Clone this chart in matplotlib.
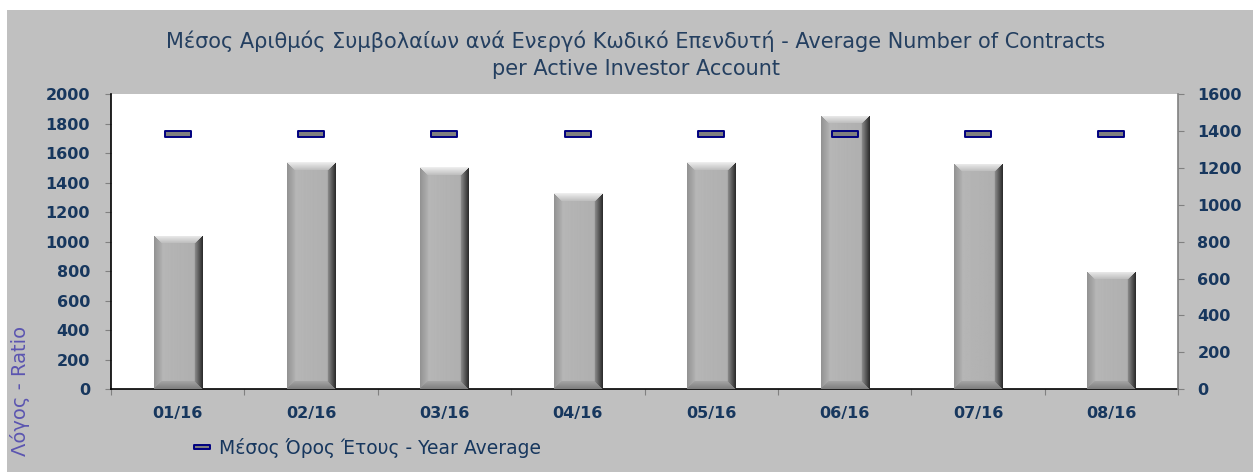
import numpy as np
import matplotlib.pyplot as plt
from matplotlib.patches import Rectangle
from matplotlib.path import Path
from matplotlib.lines import Line2D

# Datos
meses = ['01/16', '02/16', '03/16', '04/16', '05/16', '06/16', '07/16', '08/16']
contratos = [1040, 1537, 1503, 1327, 1537, 1853, 1526, 796]
media_anual = [1385, 1385, 1385, 1385, 1385, 1385, 1385, 1385]

titulo = ('Μέσος Αριθμός Συμβολαίων ανά Ενεργό Κωδικό Επενδυτή - Average Number of Contracts\n'
          'per Active Investor Account')
etiqueta_y = 'Λόγος - Ratio'
etiqueta_leyenda = 'Μέσος Όρος Έτους - Year Average'

azul = '#17375E'
gris_fondo = '#C0C0C0'

plt.rcParams['font.family'] = ['DejaVu Sans']

W, H = 1253, 472
fig = plt.figure(figsize=(W / 100, H / 100), dpi=100, facecolor='white')
# Fondo gris con margen blanco arriba y a la izquierda
fig.patches.append(Rectangle((7 / W, 0), 1 - 7 / W, 1 - 10 / H, transform=fig.transFigure,
                             facecolor=gris_fondo, edgecolor='none', zorder=-10))

ax = fig.add_axes([111 / W, 1 - 389.3 / H, (1178 - 111) / W, (389.3 - 94) / H])
ax.set_facecolor('white')
ax2 = ax.twinx()

x = np.arange(len(meses))
ax.set_xlim(-0.5, len(meses) - 0.5)
ax.set_ylim(0, 2000)
ax2.set_ylim(0, 1600)

barras = ax.bar(x, contratos, width=0.36, color='#B0B0B0', edgecolor='none', zorder=2)


# Textura biselada para las barras (efecto de Excel)
def textura_bisel(nx, ny, b=8):
    img = np.zeros((ny, nx))
    for j in range(ny):
        for i in range(nx):
            dl, dr, dt, db = i, nx - 1 - i, j, ny - 1 - j
            m = min(dl, dr, dt, db)
            t = i / max(nx - 1, 1)
            if m >= b:
                v = 0.72 - 0.04 * t
            elif m == dt:
                v = 0.93 - 0.025 * dt
            elif m == dr:
                v = 0.18 + 0.05 * dr
            elif m == db:
                v = 0.50 + 0.02 * db
            else:
                v = 0.58 + 0.015 * dl
            img[j, i] = v
    return img


fig.canvas.draw()
for b in barras:
    x0, h, w = b.get_x(), b.get_height(), b.get_width()
    p0 = ax.transData.transform((x0, 0))
    p1 = ax.transData.transform((x0 + w, h))
    nx = max(int(round(p1[0] - p0[0])), 4)
    ny = max(int(round(p1[1] - p0[1])), 4)
    im = ax.imshow(textura_bisel(nx, ny), cmap='gray', vmin=0, vmax=1,
                   extent=(x0, x0 + w, 0, h), aspect='auto', zorder=3,
                   interpolation='bilinear')
    im.set_clip_path(b)
ax.set_xlim(-0.5, len(meses) - 0.5)
ax.set_ylim(0, 2000)

# Marcador en forma de guion
guion = Path([(-1, -0.24), (1, -0.24), (1, 0.24), (-1, 0.24), (-1, -0.24)],
             [Path.MOVETO, Path.LINETO, Path.LINETO, Path.LINETO, Path.CLOSEPOLY])
ax2.plot(x, media_anual, linestyle='none', marker=guion, markersize=19,
         markerfacecolor='#7F7F7F', markeredgecolor='#000080', markeredgewidth=1.4, zorder=5)

# Ejes
for a in (ax, ax2):
    a.spines['top'].set_visible(False)
ax.spines['left'].set_color('black')
ax.spines['left'].set_linewidth(1.2)
ax.spines['bottom'].set_color('black')
ax.spines['bottom'].set_linewidth(1.2)
ax.spines['right'].set_visible(False)
ax2.spines['left'].set_visible(False)
ax2.spines['bottom'].set_visible(False)
ax2.spines['right'].set_color('#808080')
ax2.spines['right'].set_linewidth(1.2)

ax.set_yticks(np.arange(0, 2001, 200))
ax2.set_yticks(np.arange(0, 1601, 200))
ax.tick_params(axis='y', direction='out', length=4, width=0.8, color='#808080', pad=11,
               labelsize=11.5, labelcolor=azul)
ax2.tick_params(axis='y', direction='out', length=4, width=0.8, color='#808080', pad=10,
                labelsize=11.5, labelcolor=azul)
ax.set_xticks(x)
ax.set_xticklabels(meses)
ax.set_xticks(np.arange(-0.5, len(meses), 1), minor=True)
ax.tick_params(axis='x', which='major', length=0, pad=12, labelsize=11.5, labelcolor=azul)
ax.tick_params(axis='x', which='minor', direction='out', length=4, width=0.8, color='#808080')
for lab in ax.get_yticklabels() + ax2.get_yticklabels() + ax.get_xticklabels():
    lab.set_fontweight('bold')

# Título
fig.text(636 / W, 1 - 30 / H, titulo, ha='center', va='top', fontsize=15,
         color='#243F60', linespacing=1.45)

# Etiqueta del eje y
fig.text(20 / W, 1 - 456 / H, etiqueta_y, rotation=90, ha='center', va='bottom',
         fontsize=14, color='#5B55B0')

# Leyenda
mano = Line2D([], [], linestyle='none', marker=guion, markersize=12,
              markerfacecolor='#7F7F7F', markeredgecolor='#000080', markeredgewidth=1.4)
fig.legend([mano], [etiqueta_leyenda], loc='center left',
           bbox_to_anchor=(183 / W, 1 - 448 / H), frameon=False, handlelength=1.0,
           handletextpad=0.4, borderpad=0, fontsize=13.5, labelcolor=azul)

plt.savefig('out.png', dpi=100, facecolor=fig.get_facecolor())
